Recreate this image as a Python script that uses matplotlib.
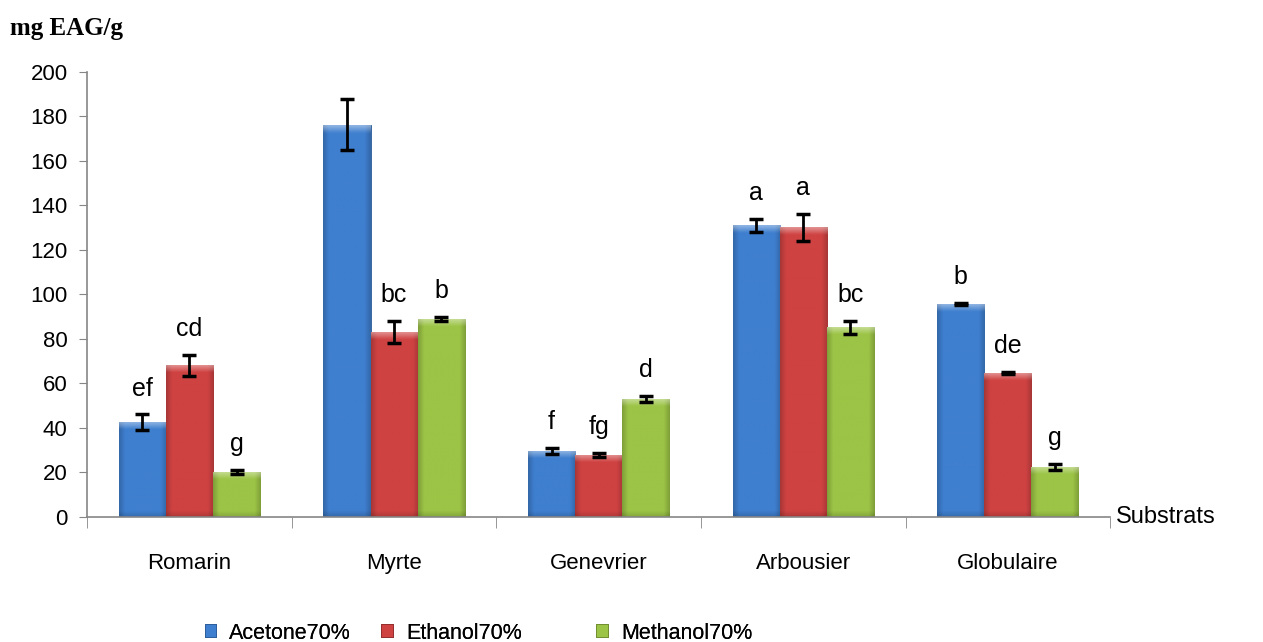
import matplotlib.pyplot as plt
import numpy as np
from matplotlib.colors import to_rgb

substrats = ['Romarin', 'Myrte', 'Genevrier', 'Arbousier', 'Globulaire']
solvants = ['Acetone70%', 'Ethanol70%', 'Methanol70%']

acetone = [42.5, 176.2, 29.6, 131.0, 95.5]
ethanol = [68.0, 83.0, 27.8, 130.0, 64.6]
methanol = [20.2, 88.8, 52.9, 85.2, 22.4]

acetone_err = [3.5, 11.4, 1.5, 3.0, 0.5]
ethanol_err = [4.8, 5.0, 0.8, 6.0, 0.6]
methanol_err = [1.0, 1.0, 1.3, 3.0, 1.5]

acetone_lettres = ['ef', '', 'f', 'a', 'b']
ethanol_lettres = ['cd', 'bc', 'fg', 'a', 'de']
methanol_lettres = ['g', 'b', 'd', 'bc', 'g']

couleurs = ['#3f7fcf', '#cf4242', '#9cc446']
bords = ['#2c5a96', '#8f2c2c', '#6d8a2e']

plt.rcParams['font.family'] = ['Liberation Sans', 'DejaVu Sans']

fig = plt.figure(figsize=(12.63, 6.42), dpi=100)
ax = fig.add_axes([0.069, 0.195, 0.81, 0.693])
ax.set_ylim(0, 200)
ax.set_xlim(-0.5, len(substrats) - 0.5)

series = [acetone, ethanol, methanol]
errs = [acetone_err, ethanol_err, methanol_err]
lettres = [acetone_lettres, ethanol_lettres, methanol_lettres]


def shade(color, h):
    # soft bevel: darker sides and bottom, light band on top
    base = np.array(to_rgb(color))
    nx, ny = 40, 200
    u = np.linspace(0, 1, nx)
    side = 1 - 0.18 * np.clip(1 - np.minimum(u, 1 - u) / 0.12, 0, 1)
    img = np.ones((ny, nx, 3)) * base
    img *= side[None, :, None]
    px = h * 2.23  # bar height in pixels
    yy = np.linspace(1, 0, ny) * px  # pixels from bottom, row 0 at top
    top = np.clip(1 - (px - yy) / 7, 0, 1)
    bot = np.clip(1 - yy / 6, 0, 1)
    img = img * (1 - 0.15 * bot[:, None, None])
    img = img + (1 - img) * 0.4 * top[:, None, None]
    return np.clip(img, 0, 1)


x = np.arange(len(substrats))
w = 0.23
for i in range(3):
    pos = x + (i - 1) * w
    bars = ax.bar(pos, series[i], w, color=couleurs[i], edgecolor=bords[i],
                  linewidth=0.6, label=solvants[i], zorder=2)
    for b in bars:
        h = b.get_height()
        ax.imshow(shade(couleurs[i], h), extent=[b.get_x(), b.get_x() + w, 0, h],
                  aspect='auto', zorder=2.5, interpolation='bilinear')
    ax.errorbar(pos, series[i], yerr=errs[i], fmt='none', ecolor='black',
                elinewidth=2, capsize=5, capthick=2.5, zorder=4)
    for xi, v, e, t in zip(pos, series[i], errs[i], lettres[i]):
        if t:
            ax.annotate(t, (xi, v + e), xytext=(0, 10), textcoords='offset points',
                        ha='center', va='bottom', fontsize=18)

ax.set_ylim(0, 200)
ax.set_xlim(-0.5, len(substrats) - 0.5)
ax.set_yticks(np.arange(0, 201, 20))
ax.tick_params(axis='y', labelsize=16, length=6, color='#868686', pad=8)
ax.set_xticks(x)
ax.set_xticklabels(substrats, fontsize=16)
ax.tick_params(axis='x', length=0, pad=26)
ax.set_xticks(np.arange(-0.5, len(substrats)), minor=True)
ax.tick_params(axis='x', which='minor', length=8, color='#868686')

for s in ['top', 'right']:
    ax.spines[s].set_visible(False)
for s in ['left', 'bottom']:
    ax.spines[s].set_color('#868686')
    ax.spines[s].set_linewidth(1.2)

ax.text(1.006, 0, 'Substrats', transform=ax.transAxes, fontsize=17,
        ha='left', va='center')
fig.text(0.008, 0.955, 'mg EAG/g', fontsize=18, fontweight='bold',
         family='Liberation Serif', ha='left', va='center')

# one legend per entry so each sits at its own place along the bottom
handles, labels = ax.get_legend_handles_labels()
for hnd, lab, xl in zip(handles, labels, [0.162, 0.302, 0.472]):
    leg = fig.legend([hnd], [lab], loc='center left', bbox_to_anchor=(xl, 0.014),
                     frameon=False, fontsize=15.5, handlelength=0.55, handleheight=0.55,
                     handletextpad=0.6, borderaxespad=0, borderpad=0)
    fig.add_artist(leg)

fig.savefig('out.png', dpi=100)
